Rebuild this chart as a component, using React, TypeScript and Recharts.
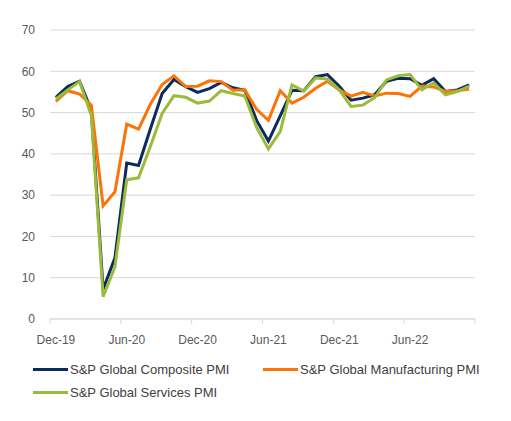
import { CartesianGrid, Line, LineChart, XAxis, YAxis } from "recharts";

const months = [
  "Dec-19", "Jan-20", "Feb-20", "Mar-20", "Apr-20", "May-20", "Jun-20", "Jul-20", "Aug-20",
  "Sep-20", "Oct-20", "Nov-20", "Dec-20", "Jan-21", "Feb-21", "Mar-21", "Apr-21", "May-21",
  "Jun-21", "Jul-21", "Aug-21", "Sep-21", "Oct-21", "Nov-21", "Dec-21", "Jan-22", "Feb-22",
  "Mar-22", "Apr-22", "May-22", "Jun-22", "Jul-22", "Aug-22", "Sep-22", "Oct-22", "Nov-22",
];

const composite = [
  53.7, 56.3, 57.6, 50.6, 7.2, 14.8, 37.8, 37.2, 46.0, 54.6, 58.0, 56.3, 54.9, 55.8, 57.3, 56.0,
  55.4, 48.1, 43.1, 49.2, 55.4, 55.3, 58.7, 59.2, 56.4, 53.0, 53.5, 54.3, 57.6, 58.3, 58.2, 56.6,
  58.2, 55.1, 55.5, 56.7,
];

const manufacturing = [
  52.7, 55.3, 54.5, 51.8, 27.4, 30.8, 47.2, 46.0, 52.0, 56.8, 58.9, 56.3, 56.4, 57.7, 57.5, 55.4,
  55.5, 50.8, 48.1, 55.3, 52.3, 53.7, 55.9, 57.6, 55.5, 54.0, 54.9, 54.0, 54.7, 54.6, 53.9, 56.4,
  56.2, 55.1, 55.3, 55.7,
];

const services = [
  53.3, 55.5, 57.5, 49.3, 5.4, 12.6, 33.7, 34.2, 41.8, 49.8, 54.1, 53.7, 52.3, 52.8, 55.3, 54.6,
  54.0, 46.4, 41.2, 45.4, 56.7, 55.2, 58.4, 58.1, 55.5, 51.5, 51.8, 53.6, 57.9, 58.9, 59.2, 55.5,
  57.2, 54.3, 55.1, 56.4,
];

const yTicks = [0, 10, 20, 30, 40, 50, 60, 70];

const series = [
  { key: "composite", name: "S&P Global Composite PMI", color: "#0c2a5c" },
  { key: "manufacturing", name: "S&P Global Manufacturing PMI", color: "#fb7408" },
  { key: "services", name: "S&P Global Services PMI", color: "#9bbb3b" },
];

const W = 495;
const H = 345;
const PLOT_LEFT = 42;
const PLOT_RIGHT = 28;
const X_AXIS_H = 34;
const FONT = "'Liberation Sans', Arial, sans-serif";

const data = months.map((m, i) => ({
  month: m,
  composite: composite[i],
  manufacturing: manufacturing[i],
  services: services[i],
}));

const band = (W - PLOT_LEFT - PLOT_RIGHT) / months.length;

// Excel-style axis: tick marks sit between months, labels under the month
function MonthTick(props: any) {
  const { x, y, payload, index, visibleTicksCount } = props;
  const bx = x - band / 2;
  const last = index === visibleTicksCount - 1;
  const endX = x + (months.length - payload.index - 0.5) * band;
  return (
    <g>
      <line x1={bx} x2={bx} y1={y} y2={y + 5} stroke="#d9d9d9" />
      {last && <line x1={endX} x2={endX} y1={y} y2={y + 5} stroke="#d9d9d9" />}
      <text x={x} y={y + 25} textAnchor="middle" fill="#595959" fontSize={12} fontFamily={FONT}>
        {payload.value}
      </text>
    </g>
  );
}

function LegendBox() {
  const rows = [[series[0], series[1]], [series[2]]];
  return (
    <div style={{ fontFamily: FONT, fontSize: 13, color: "#404040", paddingTop: 5 }}>
      {rows.map((row, r) => (
        <div key={r} style={{ display: "flex", height: 23, alignItems: "center", paddingLeft: 25 }}>
          {row.map((s) => (
            <div key={s.key} style={{ display: "flex", alignItems: "center", width: 230 }}>
              <span style={{ display: "inline-block", width: 35, height: 3, background: s.color, marginRight: 2 }} />
              <span style={{ whiteSpace: "nowrap" }}>{s.name}</span>
            </div>
          ))}
        </div>
      ))}
    </div>
  );
}

export default function App() {
  return (
    <div style={{ width: W, background: "#fff" }}>
      <LineChart
        width={W}
        height={H}
        data={data}
        margin={{ top: 22, right: PLOT_RIGHT, left: 0, bottom: 0 }}
      >
        <CartesianGrid vertical={false} stroke="#d9d9d9" />
        <XAxis
          dataKey="month"
          interval={5}
          height={X_AXIS_H}
          padding={{ left: band / 2, right: band / 2 }}
          tickLine={false}
          tickSize={0}
          tickMargin={0}
          axisLine={{ stroke: "#d9d9d9" }}
          tick={<MonthTick />}
        />
        <YAxis
          width={PLOT_LEFT}
          domain={[0, 70]}
          ticks={yTicks}
          axisLine={false}
          tickLine={false}
          tickSize={0}
          tickMargin={15}
          tick={{ fill: "#595959", fontSize: 12, fontFamily: FONT }}
        />
        {series.map((s) => (
          <Line
            key={s.key}
            type="linear"
            dataKey={s.key}
            name={s.name}
            stroke={s.color}
            strokeWidth={3}
            dot={false}
            isAnimationActive={false}
          />
        ))}
      </LineChart>
      <LegendBox />
    </div>
  );
}
